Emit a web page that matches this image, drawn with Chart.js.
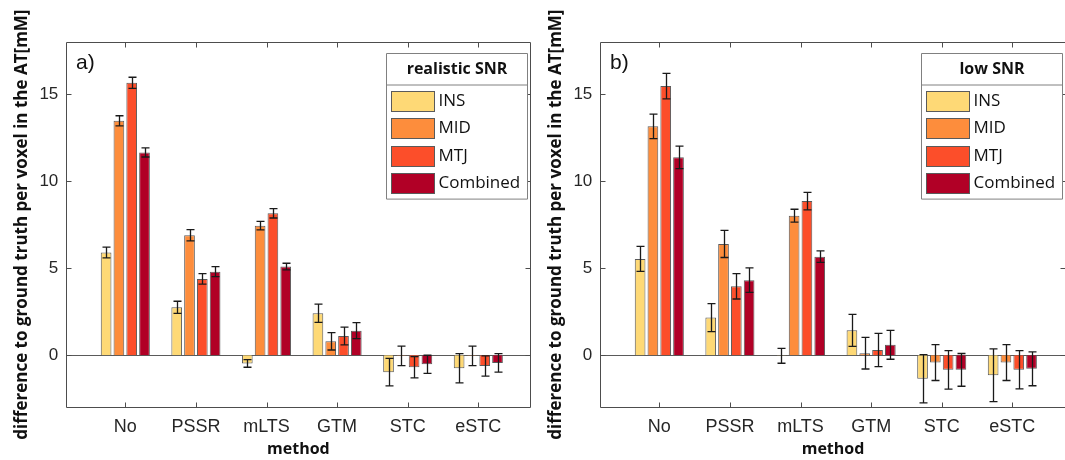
<!DOCTYPE html>
<html>
<head>
<meta charset="utf-8">
<script src="https://cdn.jsdelivr.net/npm/chart.js@4.4.0/dist/chart.umd.min.js"></script>
<style>
html, body { margin: 0; padding: 0; background: #fff; overflow: hidden; width: 1065px; height: 460px; }
.panel { position: absolute; top: 0; }
</style>
</head>
<body>
<div class="panel" style="left:0"><canvas id="chartA" width="534" height="460"></canvas></div>
<div class="panel" style="left:534px"><canvas id="chartB" width="536" height="460"></canvas></div>
<script>
var methods = ['No', 'PSSR', 'mLTS', 'GTM', 'STC', 'eSTC'];
var regions = ['INS', 'MID', 'MTJ', 'Combined'];
var yTicks = [0, 5, 10, 15];

// a) realistic SNR
var realIns  = [5.9, 2.75, -0.47, 2.41, -0.97, -0.75];
var realMid  = [13.46, 6.89, 7.44, 0.8, -0.04, -0.04];
var realMtj  = [15.64, 4.38, 8.15, 1.1, -0.69, -0.62];
var realComb = [11.64, 4.8, 5.09, 1.41, -0.52, -0.44];
var realInsErr  = [0.31, 0.35, 0.22, 0.52, 0.79, 0.84];
var realMidErr  = [0.29, 0.32, 0.24, 0.5, 0.56, 0.56];
var realMtjErr  = [0.32, 0.3, 0.27, 0.51, 0.61, 0.58];
var realCombErr = [0.26, 0.29, 0.19, 0.46, 0.52, 0.53];

// b) low SNR
var lowIns  = [5.53, 2.16, -0.03, 1.43, -1.35, -1.15];
var lowMid  = [13.14, 6.39, 8.01, 0.12, -0.42, -0.42];
var lowMtj  = [15.45, 3.96, 8.85, 0.3, -0.84, -0.83];
var lowComb = [11.36, 4.31, 5.66, 0.6, -0.84, -0.78];
var lowInsErr  = [0.72, 0.8, 0.43, 0.92, 1.38, 1.51];
var lowMidErr  = [0.7, 0.78, 0.37, 0.91, 1.03, 1.03];
var lowMtjErr  = [0.73, 0.73, 0.5, 0.95, 1.1, 1.1];
var lowCombErr = [0.65, 0.7, 0.33, 0.83, 0.94, 0.97];

var regionColors = ['#fed976', '#fd8d3c', '#fc4e2a', '#b10026'];
var axisColor = '#4d4d4d';
var textColor = '#262626';

// error bars drawn on top of the bars
var errorBars = {
	id: 'errorBars',
	afterDatasetsDraw: function(chart) {
		var ctx = chart.ctx, y = chart.scales.y;
		ctx.save();
		ctx.strokeStyle = '#1a1a1a';
		ctx.lineWidth = 1.3;
		chart.data.datasets.forEach(function(ds, i) {
			var meta = chart.getDatasetMeta(i);
			meta.data.forEach(function(bar, j) {
				var v = ds.data[j].y, e = ds.err[j];
				var x = Math.round(bar.x) + 0.5;
				var top = y.getPixelForValue(v + e), bot = y.getPixelForValue(v - e);
				ctx.beginPath();
				ctx.moveTo(x, top); ctx.lineTo(x, bot);
				ctx.moveTo(x - 4, top); ctx.lineTo(x + 4, top);
				ctx.moveTo(x - 4, bot); ctx.lineTo(x + 4, bot);
				ctx.stroke();
			});
		});
		ctx.restore();
	}
};

// matlab style box, inward ticks, zero line, legend and panel letter
var axesFrame = {
	id: 'axesFrame',
	beforeDatasetsDraw: function(chart) {
		var ctx = chart.ctx, a = chart.chartArea;
		var y0 = Math.round(chart.scales.y.getPixelForValue(0)) + 0.5;
		ctx.save();
		ctx.strokeStyle = '#5a5a5a';
		ctx.lineWidth = 1;
		ctx.beginPath();
		ctx.moveTo(a.left, y0); ctx.lineTo(a.right, y0);
		ctx.stroke();
		ctx.restore();
	},
	afterDraw: function(chart, args, opts) {
		var ctx = chart.ctx, a = chart.chartArea;
		var xs = chart.scales.x, ys = chart.scales.y;
		var L = Math.round(a.left) + 0.5, R = Math.round(a.right) - 0.5;
		var T = Math.round(a.top) + 0.5, B = Math.round(a.bottom) - 0.5;
		ctx.save();
		ctx.strokeStyle = axisColor;
		ctx.lineWidth = 1;
		ctx.beginPath();
		ctx.rect(L, T, R - L, B - T);
		xs.ticks.forEach(function(t) {
			var px = Math.round(xs.getPixelForValue(t.value)) + 0.5;
			ctx.moveTo(px, B); ctx.lineTo(px, B - 5);
			ctx.moveTo(px, T); ctx.lineTo(px, T + 5);
		});
		ys.ticks.forEach(function(t) {
			var py = Math.round(ys.getPixelForValue(t.value)) + 0.5;
			ctx.moveTo(L, py); ctx.lineTo(L + 5, py);
			ctx.moveTo(R, py); ctx.lineTo(R - 5, py);
		});
		ctx.stroke();

		// panel letter
		ctx.fillStyle = '#111';
		ctx.font = '21px "Liberation Sans", Arial, sans-serif';
		ctx.textAlign = 'left';
		ctx.textBaseline = 'alphabetic';
		ctx.fillText(opts.label, a.left + 10, a.top + 27);

		// legend box
		var w = 141, h = 145.6;
		var lx = Math.round(a.right - 4 - w) + 0.5, ly = Math.round(a.top + 11) + 0.5;
		ctx.fillStyle = '#fff';
		ctx.fillRect(lx, ly, w, h);
		ctx.strokeStyle = '#808080';
		ctx.beginPath();
		ctx.rect(lx, ly, w, h);
		ctx.moveTo(lx, ly + 31.5); ctx.lineTo(lx + w, ly + 31.5);
		ctx.stroke();
		ctx.fillStyle = '#111';
		ctx.font = 'bold 16px "Open Sans", sans-serif';
		ctx.textAlign = 'center';
		ctx.textBaseline = 'middle';
		ctx.fillText(opts.legendTitle, lx + w / 2, ly + 16);
		ctx.font = '17px "Open Sans", sans-serif';
		ctx.textAlign = 'left';
		chart.data.datasets.forEach(function(ds, i) {
			var cy = ly + 47.3 + i * 27.5;
			ctx.fillStyle = ds.backgroundColor;
			ctx.fillRect(lx + 5, Math.round(cy - 10), 43, 20);
			ctx.strokeStyle = '#5a5a5a';
			ctx.strokeRect(lx + 5, Math.round(cy - 10) + 0.5, 43, 20);
			ctx.fillStyle = '#111';
			ctx.fillText(ds.label, lx + 52, cy);
		});
		ctx.restore();
	}
};

function makePanel(id, label, legendTitle, series, errs, xMax, padRight) {
	var datasets = regions.map(function(name, k) {
		return {
			label: name,
			data: series[k].map(function(v, i) { return { x: i + 1, y: v }; }),
			err: errs[k],
			backgroundColor: regionColors[k],
			borderColor: '#5a5a5a',
			borderWidth: 1,
			categoryPercentage: 0.725,
			barPercentage: 0.835
		};
	});

	return new Chart(document.getElementById(id), {
		type: 'bar',
		data: { datasets: datasets },
		options: {
			responsive: false,
			animation: false,
			devicePixelRatio: 1,
			layout: { padding: { top: 41.7, right: padRight, left: 0, bottom: 0 } },
			plugins: {
				legend: { display: false },
				tooltip: { enabled: false },
				axesFrame: { label: label, legendTitle: legendTitle }
			},
			scales: {
				x: {
					type: 'linear',
					offset: false,
					min: 0.16,
					max: xMax,
					afterBuildTicks: function(s) {
						s.ticks = methods.map(function(m, i) { return { value: i + 1 }; });
					},
					afterFit: function(s) { s.height = 52.5; },
					grid: { display: false, drawTicks: false },
					border: { display: false },
					ticks: {
						autoSkip: false,
						maxRotation: 0,
						padding: 9,
						color: textColor,
						font: { family: '"Liberation Sans", Arial, sans-serif', size: 18 },
						callback: function(v) { return methods[Math.round(v) - 1]; }
					},
					title: {
						display: true,
						text: 'method',
						color: '#111',
						font: { family: '"Open Sans", sans-serif', size: 16, weight: 'bold' },
						padding: { top: 0, bottom: 1 }
					}
				},
				y: {
					min: -3,
					max: 18,
					afterBuildTicks: function(s) {
						s.ticks = yTicks.map(function(v) { return { value: v }; });
					},
					afterFit: function(s) { s.width = 66; },
					grid: { display: false, drawTicks: false },
					border: { display: false },
					ticks: {
						padding: 7.7,
						color: textColor,
						font: { family: '"Liberation Sans", Arial, sans-serif', size: 17 }
					},
					title: {
						display: true,
						text: 'difference to ground truth per voxel in the AT[mM]',
						color: '#111',
						font: { family: '"Open Sans", sans-serif', size: 17, weight: 'bold' },
						padding: { top: 12.2, bottom: 0 }
					}
				}
			}
		},
		plugins: [axesFrame, errorBars]
	});
}

makePanel('chartA', 'a)', 'realistic SNR',
	[realIns, realMid, realMtj, realComb],
	[realInsErr, realMidErr, realMtjErr, realCombErr], 6.742, 3.3);

makePanel('chartB', 'b)', 'low SNR',
	[lowIns, lowMid, lowMtj, lowComb],
	[lowInsErr, lowMidErr, lowMtjErr, lowCombErr], 6.76, 4);
</script>
</body>
</html>
